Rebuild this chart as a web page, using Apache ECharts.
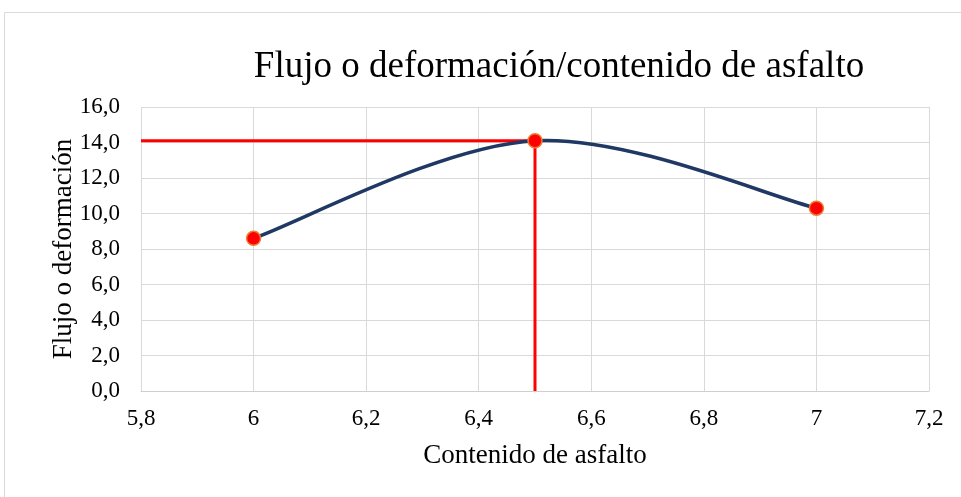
<!DOCTYPE html>
<html>
<head>
<meta charset="utf-8">
<script src="https://cdn.jsdelivr.net/npm/echarts@6/dist/echarts.min.js"></script>
<style>
  html, body { margin: 0; padding: 0; background: #fff; }
  #chart { width: 961px; height: 497px; }
</style>
</head>
<body>
<div id="chart"></div>
<script>
// Asphalt content vs. flow (deformation)
var asphaltContent = [6, 6.5, 7];
var flowValues = [8.6, 14.1, 10.3];

// Optimum reading: horizontal guide to the y axis and vertical guide to the x axis
var optimumContent = 6.5;
var optimumFlow = 14.1;

var xMin = 5.8, xMax = 7.2, xStep = 0.2;
var yMin = 0, yMax = 16, yStep = 2;

var serif = '"Liberation Serif", "Times New Roman", serif';

function comma(v, digits) {
  return v.toFixed(digits).replace('.', ',');
}

// Spreadsheet-style smoothed line: cubic Bezier segments whose handles are
// one sixth of the neighbour-to-neighbour vector (end points use themselves).
function smoothCurve(params, api) {
  if (params.dataIndex !== 0) return null;
  var pts = asphaltContent.map(function (x, i) { return api.coord([x, flowValues[i]]); });
  var n = pts.length;
  var children = [];
  for (var i = 0; i < n - 1; i++) {
    var p0 = pts[Math.max(i - 1, 0)];
    var p1 = pts[i];
    var p2 = pts[i + 1];
    var p3 = pts[Math.min(i + 2, n - 1)];
    children.push({
      type: 'bezierCurve',
      shape: {
        x1: p1[0], y1: p1[1],
        cpx1: p1[0] + (p2[0] - p0[0]) / 6, cpy1: p1[1] + (p2[1] - p0[1]) / 6,
        cpx2: p2[0] - (p3[0] - p1[0]) / 6, cpy2: p2[1] - (p3[1] - p1[1]) / 6,
        x2: p2[0], y2: p2[1]
      },
      style: { fill: null, stroke: '#1f3864', lineWidth: 3.5, lineCap: 'round' }
    });
  }
  return { type: 'group', children: children };
}

var chart = echarts.init(document.getElementById('chart'));

chart.setOption({
  backgroundColor: '#fff',
  animation: false,
  graphic: [{
    type: 'rect',
    shape: { x: 4.5, y: 12.5, width: 980, height: 500 },
    style: { fill: 'none', stroke: '#d9d9d9', lineWidth: 1 },
    silent: true
  }],
  title: {
    text: 'Flujo o deformación/contenido de asfalto',
    left: 554,
    top: 44,
    textAlign: 'center',
    textStyle: { fontFamily: serif, fontWeight: 'normal', fontSize: 37, color: '#000' }
  },
  grid: { left: 141, right: 32, top: 107, bottom: 106 },
  xAxis: {
    type: 'value',
    min: xMin, max: xMax, interval: xStep,
    name: 'Contenido de asfalto',
    nameLocation: 'middle',
    nameGap: 51,
    nameMoveOverlap: false,
    nameTextStyle: { fontFamily: serif, fontSize: 27, color: '#000' },
    axisLine: { show: true, lineStyle: { color: '#cfcfcf', width: 1 } },
    axisTick: { show: false },
    axisLabel: {
      fontFamily: serif, fontSize: 23, color: '#000', margin: 16,
      formatter: function (v) {
        var r = Math.round(v * 10) / 10;
        return Number.isInteger(r) ? String(r) : comma(r, 1);
      }
    },
    splitLine: { show: true, lineStyle: { color: '#d9d9d9', width: 1 } }
  },
  yAxis: {
    type: 'value',
    min: yMin, max: yMax, interval: yStep,
    name: 'Flujo o deformación',
    nameLocation: 'middle',
    nameGap: 77,
    nameRotate: 90,
    nameMoveOverlap: false,
    nameTextStyle: { fontFamily: serif, fontSize: 27, color: '#000', verticalAlign: 'middle' },
    axisLine: { show: false },
    axisTick: { show: false },
    axisLabel: {
      fontFamily: serif, fontSize: 23, color: '#000', margin: 21,
      formatter: function (v) { return comma(v, 1); }
    },
    splitLine: { show: true, lineStyle: { color: '#d9d9d9', width: 1 } }
  },
  series: [
    {
      type: 'line',
      data: [[xMin, optimumFlow], [optimumContent, optimumFlow], [optimumContent, yMin]],
      showSymbol: false,
      lineStyle: { color: '#ff0000', width: 3 },
      z: 2
    },
    {
      type: 'custom',
      renderItem: smoothCurve,
      data: asphaltContent.map(function (x, i) { return [x, flowValues[i]]; }),
      encode: { x: 0, y: 1 },
      z: 3
    },
    {
      type: 'scatter',
      data: asphaltContent.map(function (x, i) { return [x, flowValues[i]]; }),
      symbol: 'circle',
      symbolSize: 14,
      itemStyle: { color: '#ff0000', borderColor: '#ed7d31', borderWidth: 1.5, opacity: 1 },
      z: 4
    }
  ]
});
</script>
</body>
</html>
